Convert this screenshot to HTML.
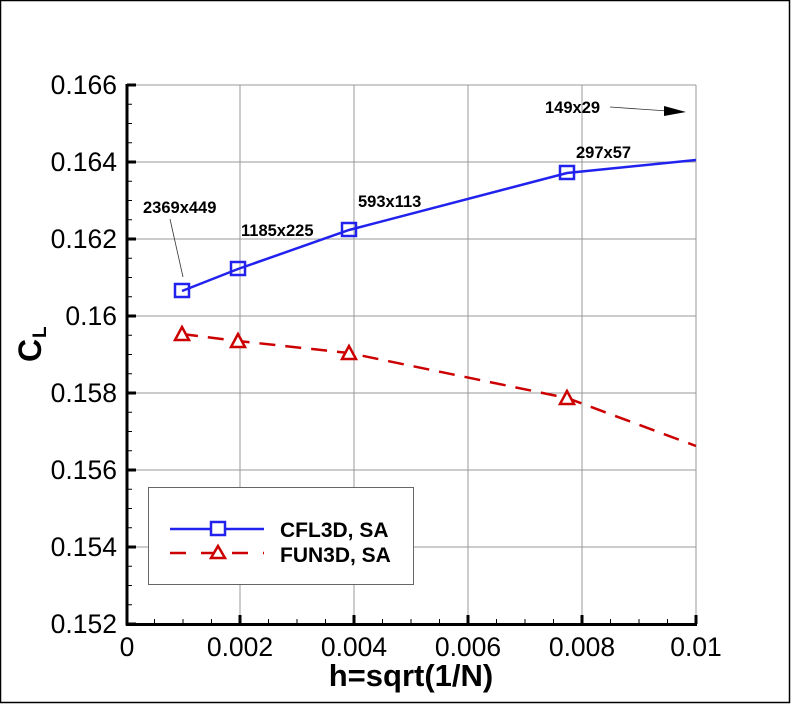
<!DOCTYPE html>
<html><head><meta charset="utf-8"><style>
body{margin:0;background:#fff}
svg{display:block;font-family:"Liberation Sans",sans-serif}
</style></head><body>
<svg width="791" height="704" viewBox="0 0 791 704">
<rect x="0.5" y="0.5" width="789" height="702" fill="#fff" stroke="#000" stroke-width="1.5"/>
<g stroke="#999" stroke-width="1">
<line x1="240" y1="85" x2="240" y2="624"/><line x1="354" y1="85" x2="354" y2="624"/>
<line x1="468" y1="85" x2="468" y2="624"/><line x1="582" y1="85" x2="582" y2="624"/>
<line x1="696" y1="85" x2="696" y2="624"/>
<line x1="127" y1="85" x2="696" y2="85"/><line x1="127" y1="162" x2="696" y2="162"/>
<line x1="127" y1="239" x2="696" y2="239"/><line x1="127" y1="316" x2="696" y2="316"/>
<line x1="127" y1="393" x2="696" y2="393"/><line x1="127" y1="470" x2="696" y2="470"/>
<line x1="127" y1="547" x2="696" y2="547"/>
</g>
<g stroke="#000" stroke-width="1">
<path d="M127 104.25h5M127 123.5h5M127 142.75h5M127 181.25h5M127 200.5h5M127 219.75h5M127 258.25h5M127 277.5h5M127 296.75h5M127 335.25h5M127 354.5h5M127 373.75h5M127 412.25h5M127 431.5h5M127 450.75h5M127 489.25h5M127 508.5h5M127 527.75h5M127 566.25h5M127 585.5h5M127 604.75h5"/>
<path d="M154.5 624v-5M183 624v-5M211.5 624v-5M268.5 624v-5M297 624v-5M325.5 624v-5M382.5 624v-5M411 624v-5M439.5 624v-5M496.5 624v-5M525 624v-5M553.5 624v-5M610.5 624v-5M639 624v-5M667.5 624v-5"/>
</g>
<g stroke="#000" stroke-width="3">
<path d="M127 85h9M127 162h9M127 239h9M127 316h9M127 393h9M127 470h9M127 547h9M127 624h9"/>
<path d="M240 624v-9M354 624v-9M468 624v-9M582 624v-9M696 624v-9"/>
<line x1="127" y1="84" x2="127" y2="625.5"/><line x1="126" y1="624.5" x2="697" y2="624.5"/>
</g>
<g font-size="26.5" text-anchor="end" fill="#000">
<text x="117" y="94">0.166</text><text x="117" y="171">0.164</text><text x="117" y="248">0.162</text>
<text x="117" y="325">0.16</text><text x="117" y="402">0.158</text><text x="117" y="479">0.156</text>
<text x="117" y="556">0.154</text><text x="117" y="633">0.152</text>
</g>
<g font-size="26.5" text-anchor="middle" fill="#000">
<text x="127" y="656">0</text><text x="240" y="656">0.002</text><text x="354" y="656">0.004</text>
<text x="468" y="656">0.006</text><text x="582" y="656">0.008</text><text x="696" y="656">0.01</text>
</g>
<text x="411" y="686" font-size="31" font-weight="bold" text-anchor="middle">h=sqrt(1/N)</text>
<g transform="translate(41,348) rotate(-90)"><text x="-14" y="0" font-size="32" font-weight="bold">C</text><text x="10" y="5" font-size="19" font-weight="bold">L</text></g>
<polyline points="182,291 238,269 349,230 567,173 696,160" fill="none" stroke="#2222ee" stroke-width="2.5"/>
<polyline points="182,334 238,341 349,353 567,398 696,446" fill="none" stroke="#cc0000" stroke-width="2.5" stroke-dasharray="16,10"/>
<g fill="none" stroke="#2222ee" stroke-width="2.5">
<rect x="175" y="284" width="14" height="13"/><rect x="231" y="262" width="14" height="13"/>
<rect x="342" y="223" width="14" height="13"/><rect x="560" y="166" width="14" height="13"/>
</g>
<g fill="#fff" stroke="#cc0000" stroke-width="2.5">
<polygon points="182,327 175,340 189,340"/><polygon points="238,334 231,347 245,347"/>
<polygon points="349,346 342,359 356,359"/><polygon points="567,391 560,404 574,404"/>
</g>
<g font-size="16.5" font-weight="bold" fill="#000">
<text x="143" y="213">2369x449</text><text x="241" y="236">1185x225</text>
<text x="358" y="207">593x113</text><text x="576" y="158">297x57</text><text x="545" y="113">149x29</text>
</g>
<line x1="170" y1="219" x2="183" y2="277" stroke="#333" stroke-width="0.8"/>
<line x1="610" y1="107" x2="668" y2="111" stroke="#333" stroke-width="0.8"/>
<polygon points="686,112 664,106 664,116" fill="#000"/>
<rect x="148.5" y="487.5" width="265" height="97" fill="#fff" stroke="#666" stroke-width="1"/>
<line x1="170" y1="529" x2="264" y2="529" stroke="#2222ee" stroke-width="2.5"/>
<rect x="211" y="522" width="14" height="13" fill="#fff" stroke="#2222ee" stroke-width="2.5"/>
<line x1="170" y1="553" x2="264" y2="553" stroke="#cc0000" stroke-width="2.5" stroke-dasharray="16,15"/>
<polygon points="218,546 211,558 225,558" fill="#fff" stroke="#cc0000" stroke-width="2.5"/>
<g font-size="21" font-weight="bold" fill="#000">
<text x="280" y="537">CFL3D, SA</text><text x="280" y="562">FUN3D, SA</text>
</g>
</svg>
</body></html>
